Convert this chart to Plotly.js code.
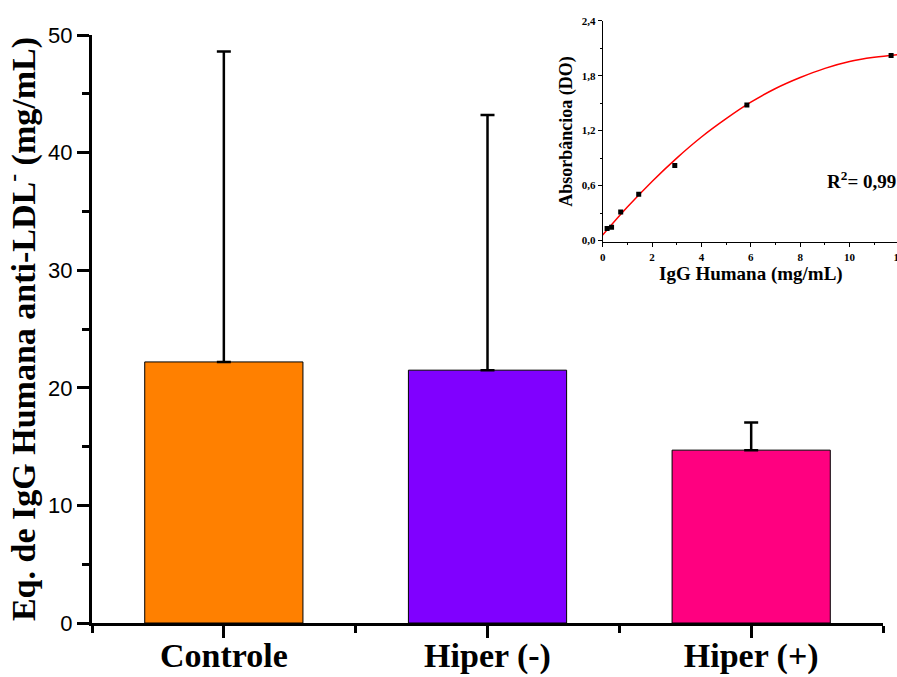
<!DOCTYPE html>
<html>
<head>
<meta charset="utf-8">
<script src="https://cdn.plot.ly/plotly-3.0.1.min.js"></script>
<style>
  html, body { margin: 0; padding: 0; overflow: hidden; background: #fff; }
  #chart { width: 905px; height: 677px; }
</style>
</head>
<body>
<div id="chart"></div>
<script>
// Main bars: anti-oxLDL IgG equivalents per group
const groups = ['Controle', 'Hiper (-)', 'Hiper (+)'];
const groupMeans = [22.2, 21.5, 14.7];
const groupSD = [26.4, 21.7, 2.35];
const groupColors = ['#FF8000', '#8000FF', '#FF0080'];

// Inset: standard curve, human IgG concentration vs absorbance
const stdConc = [0.18, 0.36, 0.73, 1.46, 2.92, 5.84, 11.68];
const stdAbs = [0.13, 0.145, 0.31, 0.505, 0.82, 1.48, 2.02];
// fitted calibration curve read at whole concentrations
const fitConc = [0, 1, 2, 3, 4, 5, 6, 7, 8, 9, 10, 11, 12];
const fitAbs = [0.06, 0.365, 0.645, 0.90, 1.13, 1.33, 1.51, 1.66, 1.78, 1.88, 1.955, 2.00, 2.03];

const serif = 'Liberation Serif, Times New Roman, serif';
const sans = 'Liberation Sans, Arial, sans-serif';

const traces = [
  {
    type: 'bar',
    x: groups.map((_, i) => i),
    y: groupMeans,
    width: 0.6,
    marker: { color: groupColors, line: { color: '#000', width: 1 } },
    error_y: {
      type: 'data', symmetric: false,
      array: groupSD, arrayminus: groupSD.map(() => 0),
      color: '#000', thickness: 2.5, width: 7
    },
    xaxis: 'x', yaxis: 'y',
    hoverinfo: 'x+y'
  },
  {
    type: 'scatter', mode: 'lines',
    x: fitConc, y: fitAbs,
    line: { color: '#FF0000', width: 1.5, shape: 'spline' },
    xaxis: 'x2', yaxis: 'y2'
  },
  {
    type: 'scatter', mode: 'markers',
    x: stdConc, y: stdAbs,
    marker: { symbol: 'square', color: '#000', size: 5 },
    xaxis: 'x2', yaxis: 'y2'
  }
];

const layout = {
  width: 905, height: 677,
  margin: { l: 92, r: 6, t: 20, b: 54 },
  paper_bgcolor: '#fff', plot_bgcolor: 'rgba(0,0,0,0)',
  showlegend: false,
  separators: ',.',
  xaxis: {
    domain: [0, 0.9802],
    range: [-0.5, 2.5],
    tickmode: 'array',
    tickvals: groups.map((_, i) => i),
    ticktext: groups,
    ticks: 'outside', ticklen: 12, tickwidth: 3, tickcolor: '#000',
    ticklabelstandoff: -12,
    minor: { tickmode: 'array', tickvals: [-0.5, 0.5, 1.5, 2.5], ticks: 'outside', ticklen: 7, tickwidth: 3, tickcolor: '#000' },
    showline: true, linewidth: 3, linecolor: '#000',
    showgrid: false, zeroline: false,
    tickfont: { family: serif, size: 34, color: '#000', weight: 'bold' },
    anchor: 'y'
  },
  yaxis: {
    domain: [0, 0.9751],
    range: [0, 50],
    dtick: 10,
    ticks: 'outside', ticklen: 12, tickwidth: 3, tickcolor: '#000',
    minor: { dtick: 5, ticks: 'outside', ticklen: 7, tickwidth: 3, tickcolor: '#000' },
    showline: true, linewidth: 3, linecolor: '#000',
    showgrid: false, zeroline: false,
    tickfont: { family: sans, size: 22, color: '#000' },
    title: {
      text: 'Eq. de IgG Humana anti-LDL<sup>-</sup> (mg/mL)',
      font: { family: serif, size: 34, color: '#000', weight: 'bold' },
      standoff: 4
    },
    anchor: 'x'
  },
  xaxis2: {
    domain: [0.6328, 1],
    range: [0, 12],
    dtick: 2,
    ticks: 'outside', ticklen: 4, tickwidth: 1, tickcolor: '#000',
    minor: { dtick: 1, ticks: 'outside', ticklen: 2, tickwidth: 1, tickcolor: '#000' },
    showline: true, linewidth: 1, linecolor: '#000',
    showgrid: false, zeroline: false,
    tickfont: { family: serif, size: 11, color: '#000', weight: 'bold' },
    title: {
      text: 'IgG Humana (mg/mL)',
      font: { family: serif, size: 19, color: '#000', weight: 'bold' },
      standoff: 4
    },
    anchor: 'y2'
  },
  yaxis2: {
    domain: [0.6313, 0.9988],
    range: [-0.02, 2.4],
    dtick: 0.6,
    tickformat: '.1f',
    ticks: 'outside', ticklen: 4, tickwidth: 1, tickcolor: '#000',
    minor: { dtick: 0.3, ticks: 'outside', ticklen: 2, tickwidth: 1, tickcolor: '#000' },
    showline: true, linewidth: 1, linecolor: '#000',
    showgrid: false, zeroline: false,
    tickfont: { family: serif, size: 11, color: '#000', weight: 'bold' },
    title: {
      text: 'Absorbâncioa (DO)',
      font: { family: serif, size: 18, color: '#000', weight: 'bold' },
      standoff: 4
    },
    anchor: 'x2'
  },
  annotations: [
    {
      xref: 'paper', yref: 'paper',
      x: 0.9988, y: 0.7347,
      xanchor: 'right', yanchor: 'middle',
      text: 'R<sup>2</sup>= 0,99',
      showarrow: false,
      font: { family: serif, size: 19, color: '#000', weight: 'bold' }
    }
  ]
};

Plotly.newPlot('chart', traces, layout, { displayModeBar: false, staticPlot: true });
</script>
</body>
</html>
